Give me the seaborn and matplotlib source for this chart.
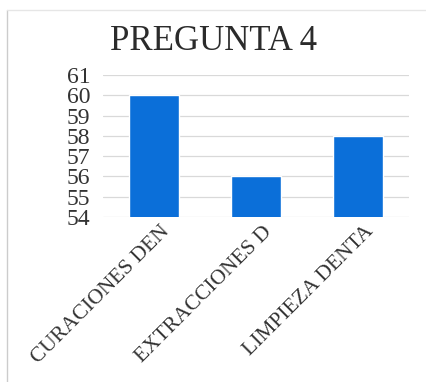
import matplotlib
matplotlib.use("Agg")
import matplotlib.pyplot as plt
import matplotlib.transforms as mtransforms
import seaborn as sns
import pandas as pd

categorias = ["CURACIONES DEN", "EXTRACCIONES D", "LIMPIEZA DENTA"]
valores = [60, 56, 58]
ticks_y = [54, 55, 56, 57, 58, 59, 60, 61]

df = pd.DataFrame({"categoria": categorias, "valor": valores})

sns.set_theme(style="white")
plt.rcParams["font.family"] = ["Liberation Serif", "DejaVu Serif"]

fig = plt.figure(figsize=(4.27, 3.82), dpi=100)
ax = fig.add_axes([103 / 427, 1 - 217 / 382, 306 / 427, 142 / 382])

sns.barplot(data=df, x="categoria", y="valor", color="#0b6fd9",
            width=0.49, saturation=1, ax=ax, zorder=3)

ax.set_ylim(54, 61)
ax.set_xlim(-0.5, 2.5)
ax.set_yticks(ticks_y)
ax.set_yticklabels([str(t) for t in ticks_y], fontsize=17, color="#333333")
ax.yaxis.grid(True, color="#d9d9d9", linewidth=0.9, zorder=0)
ax.set_axisbelow(True)
for s in ax.spines.values():
    s.set_visible(False)
ax.tick_params(axis="y", length=0, pad=9)
ax.tick_params(axis="x", length=0, pad=4)
ax.set_xlabel("")
ax.set_ylabel("")
ax.set_xticks(range(len(categorias)))
ax.set_xticklabels(categorias, rotation=45, ha="right", rotation_mode="anchor",
                   fontsize=15.5, color="#333333")
shift = mtransforms.ScaledTranslation(6 / 100, 0, fig.dpi_scale_trans)
for lbl in ax.get_xticklabels():
    lbl.set_transform(lbl.get_transform() + shift)

fig.text(0.5, 1 - 41 / 382, "PREGUNTA 4", ha="center", va="center",
         fontsize=25, color="#2b2b2b")

# thin frame around the chart area
fig.add_artist(plt.Line2D([7 / 427, 7 / 427], [0, 1 - 10 / 382],
                          transform=fig.transFigure, color="#cccccc", linewidth=1))
fig.add_artist(plt.Line2D([7 / 427, 1], [1 - 10 / 382, 1 - 10 / 382],
                          transform=fig.transFigure, color="#e6e6e6", linewidth=1))

fig.savefig("out.png", dpi=100)
